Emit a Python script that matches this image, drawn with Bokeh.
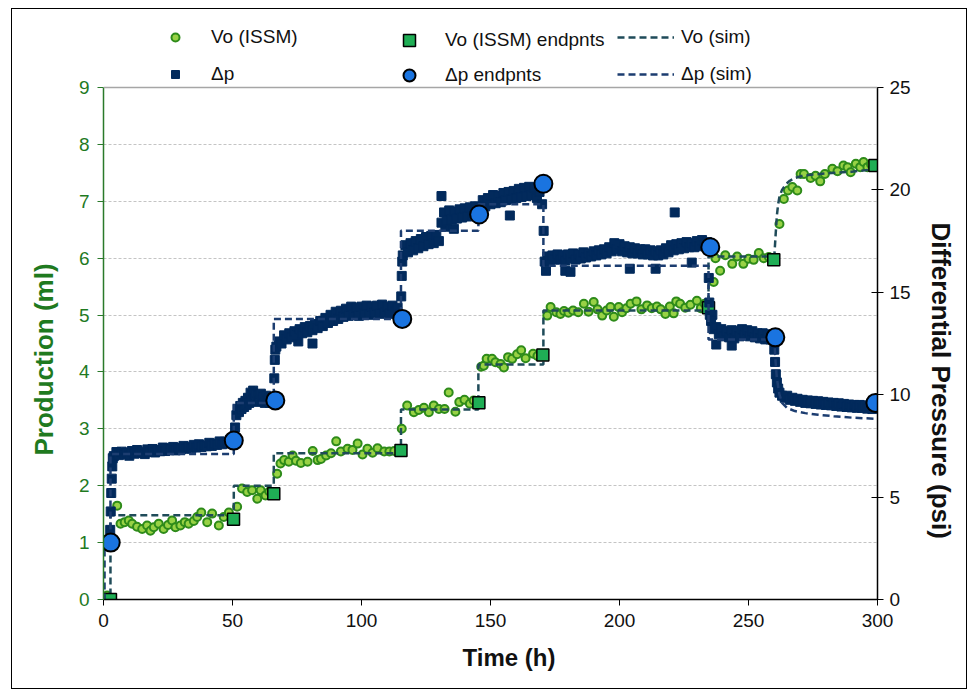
import numpy as np
from bokeh.plotting import figure
from bokeh.models import (Range1d, LinearAxis, FixedTicker, Legend, LegendItem,
                          Title, Span)
from bokeh.embed import file_html
from bokeh.resources import INLINE

FONT = "Liberation Sans"

# ---- oil production, ISSM measurements (h, ml) ----
vo_t = [1.4, 5.3, 6.6, 8.2, 9.8, 11.1, 13.0, 15.0, 16.9, 18.2,
        19.5, 21.4, 23.3, 25.0, 26.6, 27.9, 29.8, 31.5, 33.0, 35.0,
        36.3, 37.9, 40.2, 42.1, 44.7, 46.6, 48.6,
        51.8, 53.7, 55.7, 57.6, 59.6, 60.9, 62.8, 64.3,
        67.3, 68.6, 70.0, 71.8, 73.3, 74.6, 76.5, 79.1, 81.1, 83.0,
        84.3, 86.3, 88.2, 90.2, 92.0, 94.6, 96.5, 98.5, 100.4, 102.3,
        104.3, 106.2, 108.8, 110.8, 112.7,
        115.6, 117.7, 120.3, 122.2, 124.2, 126.1, 128.0, 130.0, 132.2, 133.8,
        136.4, 137.9, 139.9, 142.0, 143.5,
        146.4, 147.4, 148.5, 150.6, 151.9, 153.9, 155.2, 156.8, 158.4, 160.3,
        161.9, 163.6, 166.5, 168.2,
        172.0, 173.3, 175.5, 177.1, 178.5, 180.2, 182.0, 184.0, 186.2, 188.0,
        190.0, 191.5, 193.3, 195.0, 196.5, 197.8, 199.7, 201.0, 202.7, 204.3,
        206.6, 208.5, 210.7, 212.5, 214.5, 216.0, 217.8, 219.5, 221.0, 222.0,
        223.5, 225.5, 227.5, 230.0, 231.5, 233.0,
        236.5, 237.2, 239.0, 241.0, 243.7, 245.6, 248.0, 250.0, 252.0, 254.0,
        255.9, 257.9,
        262.0, 263.7, 265.3, 267.0, 268.9, 270.2, 271.5, 274.1, 276.0, 277.8,
        279.6, 282.5, 284.5, 286.8, 288.4, 289.6, 291.6, 293.3, 294.6, 296.1,
        297.5]
vo_v = [0.07, 1.65, 1.33, 1.36, 1.39, 1.33, 1.28, 1.24, 1.30, 1.21,
        1.27, 1.33, 1.24, 1.31, 1.39, 1.27, 1.30, 1.36, 1.33, 1.38,
        1.45, 1.53, 1.36, 1.51, 1.30, 1.45, 1.53,
        1.63, 1.95, 1.89, 1.92, 1.77, 1.92, 1.83, 1.90,
        2.21, 2.39, 2.45, 2.42, 2.53, 2.44, 2.40, 2.42, 2.61, 2.45,
        2.47, 2.53, 2.57, 2.78, 2.60, 2.65, 2.63, 2.74, 2.55, 2.65,
        2.58, 2.66, 2.60, 2.60, 2.61,
        3.00, 3.41, 3.29, 3.33, 3.37, 3.29, 3.41, 3.35, 3.35, 3.64,
        3.30, 3.47, 3.51, 3.44, 3.50,
        4.09, 4.11, 4.23, 4.23, 4.17, 4.14, 4.08, 4.26, 4.23, 4.31,
        4.38, 4.24, 4.32, 4.28,
        4.99, 5.14, 5.05, 5.02, 5.07, 5.04, 5.08, 5.05, 5.20, 5.06,
        5.23, 5.10, 4.99, 5.08, 5.14, 4.97, 5.14, 5.05, 5.12, 5.20,
        5.24, 5.10, 5.17, 5.12, 5.15, 5.10, 5.02, 5.15, 5.03, 5.24,
        5.20, 5.13, 5.18, 5.25, 5.12, 5.20,
        5.58, 6.00, 5.78, 6.05, 5.90, 6.03, 5.90, 5.99, 5.97, 6.09,
        6.00, 6.02,
        6.60, 7.04, 7.19, 7.25, 7.19, 7.48, 7.48, 7.41, 7.45, 7.35,
        7.48, 7.57, 7.53, 7.63, 7.60, 7.51, 7.66, 7.60, 7.69, 7.60,
        7.65]

# end point of every rate step (h, ml)
vo_end_t = [2.7, 50.4, 66.0, 115.3, 145.5, 170.3, 234.5, 259.8, 299.0]
vo_end_v = [0.0, 1.41, 1.86, 2.62, 3.46, 4.30, 5.13, 5.97, 7.63]

# simulated production (h, ml)
vo_sim_t = [0, 2.7, 2.7, 50.5, 50.5, 66.0, 66.0, 115.3, 115.3, 145.3,
            145.3, 170.5, 170.5, 234.5, 234.5, 260.0, 260.5, 261.0, 261.5, 262.0,
            263.0, 264.5, 266.0, 268.0, 271.0, 275.0, 280.0, 290.0, 300.0]
vo_sim_v = [0, 0, 1.48, 1.48, 2.0, 2.0, 2.57, 2.57, 3.34, 3.34,
            4.13, 4.13, 5.08, 5.08, 6.03, 6.03, 6.4, 6.75, 6.95, 7.08,
            7.2, 7.3, 7.36, 7.41, 7.45, 7.47, 7.49, 7.52, 7.57]

# ---- differential pressure, logged readings (psi) ----
# readings around the rate changes plus isolated spikes (h, psi)
dp_extra_t = [0.3, 1.0, 2.6, 2.8, 3.0, 3.2, 3.4, 3.6,
              66.2, 66.4, 66.6, 75.5, 81.0,
              115.4, 115.6, 115.8, 131.0, 132.5, 135.8, 157.5,
              170.6, 171.5, 179.0, 181.0, 204.0, 214.0, 221.4, 228.0,
              234.6, 234.8, 235.0, 236.0, 237.5, 243.5,
              260.0, 260.3, 260.6, 261.0, 261.5, 262.0, 263.0]
dp_extra_v = [2.75, 2.9, 3.4, 4.3, 5.2, 5.9, 6.5, 6.9,
              10.8, 11.7, 12.2, 12.6, 12.5,
              14.8, 15.8, 16.5, 19.7, 18.2, 18.1, 18.75,
              18.0, 16.05, 16.05, 16.0, 16.15, 16.15, 18.9, 16.45,
              15.7, 14.5, 13.9, 13.9, 12.45, 12.4,
              12.2, 11.6, 11.0, 10.6, 10.3, 10.1, 9.95]

# steady logging at a fixed interval: (first reading h, interval h, values psi)
dp_step1 = (4.0, 1.0, [7.00, 7.20, 7.05, 7.22, 7.10, 7.18, 7.02, 7.25, 7.12, 7.30,
                       7.15, 7.22, 7.10, 7.33, 7.20, 7.35, 7.18, 7.30, 7.24, 7.42,
                       7.25, 7.38, 7.30, 7.45, 7.28, 7.40, 7.33, 7.50, 7.36, 7.46,
                       7.38, 7.55, 7.42, 7.58, 7.45, 7.52, 7.48, 7.65, 7.50, 7.62,
                       7.55, 7.72, 7.58, 7.70, 7.62, 7.80, 7.68])
dp_step2 = (51.0, 0.5, [8.40, 9.00, 9.30, 9.15, 9.45, 9.30, 9.60, 9.40, 9.70, 9.50,
                        9.85, 9.60, 10.10, 9.70, 10.20, 9.80, 10.00, 9.65, 9.95, 9.70,
                        10.05, 9.75, 9.90, 9.60, 9.95, 9.70, 9.85, 9.60, 9.80, 9.65])
dp_step3 = (67.0, 1.0, [12.35, 12.60, 12.50, 12.90, 12.70, 13.00, 12.80, 13.10, 12.90, 13.20,
                        13.00, 13.30, 13.05, 13.35, 13.15, 13.45, 13.25, 13.60, 13.35, 13.75,
                        13.50, 13.90, 13.60, 14.05, 13.70, 14.10, 13.80, 14.20, 13.85, 14.30,
                        13.90, 14.25, 13.85, 14.30, 13.95, 14.35, 13.90, 14.30, 14.00, 14.35,
                        13.95, 14.40, 14.00, 14.30, 13.95, 14.35, 14.05, 14.25, 13.90])
dp_step4 = (116.0, 1.0, [16.80, 17.30, 16.95, 17.40, 17.05, 17.50, 17.15, 17.60, 17.25, 17.70,
                         17.35, 17.75, 17.40, 17.80, 17.50])
dp_step5 = (131.0, 1.0, [18.40, 18.90, 18.50, 19.00, 18.55, 18.95, 18.60, 19.05, 18.65, 19.10,
                         18.70, 19.15, 18.75, 19.20, 18.80])
dp_step6 = (146.0, 1.0, [19.10, 19.50, 19.20, 19.60, 19.30, 19.75, 19.35, 19.70, 19.40, 19.85,
                         19.50, 19.90, 19.55, 19.95, 19.60, 20.05, 19.65, 20.10, 19.70, 20.15,
                         19.75, 20.10, 19.60, 19.90, 19.30])
dp_step7 = (171.0, 1.0, [16.50, 16.75, 16.55, 16.80, 16.60, 16.85, 16.60, 16.80, 16.55, 16.85,
                         16.65, 16.90, 16.60, 16.85, 16.65, 16.95, 16.70, 16.90, 16.75, 17.00,
                         16.80, 17.05, 16.85, 17.10, 16.90, 17.20, 17.00, 17.40, 17.10, 17.35,
                         17.00, 17.25, 16.95, 17.20, 16.90, 17.15, 16.90, 17.10, 16.85, 17.10,
                         16.85, 17.05, 16.80, 17.00, 16.80, 17.05, 16.85, 17.15, 16.95, 17.30,
                         17.05, 17.35, 17.10, 17.40, 17.15, 17.45, 17.20, 17.40, 17.20, 17.50,
                         17.25, 17.55, 17.30, 17.45])
dp_step8 = (235.5, 1.0, [13.60, 13.20, 13.30, 12.95, 13.20, 12.85, 13.10, 12.80, 13.15, 12.75,
                         13.10, 12.85, 13.20, 12.90, 13.15, 12.85, 13.10, 12.80, 13.00, 12.75,
                         13.00, 12.70, 12.95, 12.70, 12.85])
dp_step9 = (264.0, 1.0, [9.85, 9.95, 9.75, 9.85, 9.70, 9.80, 9.65, 9.75, 9.60, 9.72,
                         9.58, 9.70, 9.55, 9.68, 9.52, 9.65, 9.50, 9.62, 9.48, 9.60,
                         9.45, 9.58, 9.42, 9.55, 9.40, 9.52, 9.38, 9.50, 9.36, 9.50,
                         9.35, 9.48, 9.32, 9.45, 9.30, 9.42])

# end point of every rate step (h, psi)
dp_end_t = [2.8, 50.5, 66.6, 115.8, 145.6, 170.5, 235.2, 260.4, 299.2]
dp_end_v = [2.78, 7.76, 9.72, 13.70, 18.80, 20.30, 17.20, 12.80, 9.60]

# simulated differential pressure (h, psi)
dp_sim_t = [0, 0.4, 0.4, 2.7, 2.7, 50.5, 50.5, 66.0, 66.0, 115.3,
            115.3, 145.3, 145.3, 170.5, 170.5, 234.5, 234.5, 260.0, 260.5, 261.0,
            262.0, 263.0, 265.0, 268.0, 272.0, 277.0, 283.0, 290.0, 300.0]
dp_sim_v = [0, 0, 2.8, 2.8, 7.1, 7.1, 9.6, 9.6, 13.7, 13.7,
            18.0, 18.0, 19.3, 19.3, 16.3, 16.3, 12.7, 12.7, 11.6, 10.8,
            10.0, 9.6, 9.35, 9.2, 9.1, 9.02, 8.95, 8.88, 8.82]

x_ticks = [0, 50, 100, 150, 200, 250, 300]
left_ticks = [0, 1, 2, 3, 4, 5, 6, 7, 8, 9]
right_ticks = [0, 5, 10, 15, 20, 25]
VO_MAX, DP_MAX = 9, 25

# assemble the logged pressure record
dp_t = list(dp_extra_t)
dp_v = list(dp_extra_v)
for start, step, vals in (dp_step1, dp_step2, dp_step3, dp_step4, dp_step5,
                          dp_step6, dp_step7, dp_step8, dp_step9):
    dp_t += [start + step * i for i in range(len(vals))]
    dp_v += vals

GREEN_TXT = "#1f7a1f"
NAVY = "#022a5c"

# page geometry (px): the plotting area runs from y=87 (top of the axes) to
# y=599; the frame is taken up to y=20 so that the key above the axes is
# drawn inside it, and the axes are bounded to their own spans.
FRAME_L, FRAME_T, FRAME_B, AXES_T = 103, 20, 599, 87
stretch = (FRAME_B - FRAME_T) / (FRAME_B - AXES_T)

p = figure(width=954, height=679, output_backend="svg", toolbar_location=None,
           x_range=Range1d(0, 300), y_range=Range1d(0, VO_MAX * stretch),
           min_border_left=91, min_border_right=89, min_border_top=FRAME_T - 9,
           min_border_bottom=89, background_fill_color="white",
           border_fill_color="white")
p.margin = (9, 0, 0, 12)
p.styles = {"outline": "1.5px solid #000"}
p.extra_y_ranges = {"dp": Range1d(0, DP_MAX * stretch)}
p.outline_line_color = None

# top edge of the axes box
p.add_layout(Span(location=VO_MAX, dimension="width", line_color="#a6a6a6",
                  line_width=1.5))

# grid
p.xgrid.grid_line_color = None
p.ygrid.ticker = FixedTicker(ticks=[1, 2, 3, 4, 5, 6, 7, 8])
p.ygrid.grid_line_color = "#c4c4c4"
p.ygrid.grid_line_dash = "3 2"
p.ygrid.grid_line_width = 1

# bottom axis
xa = p.xaxis[0]
xa.ticker = FixedTicker(ticks=x_ticks)
xa.major_label_text_font = FONT
xa.major_label_text_font_size = "19px"
xa.major_label_text_color = "#111111"
xa.major_label_standoff = 8
xa.major_tick_out = 6
xa.major_tick_in = 0
xa.minor_tick_line_color = None
xa.axis_line_color = "#000000"
xa.axis_line_width = 1.5
xa.major_tick_line_color = "#000000"

# left axis: production
ya = p.yaxis[0]
ya.ticker = FixedTicker(ticks=left_ticks)
ya.bounds = (0, VO_MAX)
ya.major_label_text_font = FONT
ya.major_label_text_font_size = "19px"
ya.major_label_text_color = GREEN_TXT
ya.major_label_standoff = 8
ya.major_tick_out = 6
ya.major_tick_in = 0
ya.minor_tick_line_color = None
ya.axis_line_color = "#2a7a2a"
ya.axis_line_width = 1.5
ya.major_tick_line_color = "#2a7a2a"

# right axis: differential pressure
ra = LinearAxis(y_range_name="dp", ticker=FixedTicker(ticks=right_ticks),
                bounds=(0, DP_MAX))
ra.major_label_text_font = FONT
ra.major_label_text_font_size = "19px"
ra.major_label_text_color = "#111111"
ra.major_label_standoff = 6
ra.major_tick_out = 6
ra.major_tick_in = 6
ra.minor_tick_line_color = None
ra.axis_line_color = "#000000"
ra.axis_line_width = 1.5
ra.major_tick_line_color = "#000000"
p.add_layout(ra, "right")

# axis titles, set outside the tick labels
def side_title(text, side, offset, standoff, valign, color="#111111", size="26px"):
    p.add_layout(Title(text=text, align="left", offset=offset, standoff=standoff,
                       vertical_align=valign, text_font=FONT,
                       text_font_style="bold", text_font_size=size,
                       text_color=color), side)

side_title("Production (ml)", "left", FRAME_B - 455, 30, "top", GREEN_TXT)
side_title("Differential Pressure (psi)", "right", 222 - FRAME_T, 21, "top")
side_title("Time (h)", "below", 462 - FRAME_L, 24, "bottom", size="24px")

# production series
r_vo = p.scatter(vo_t, vo_v, marker="circle", size=8, line_color="#2e8b1a",
                 line_width=2, fill_color="#98d245")
r_vo_sim = p.line(vo_sim_t, vo_sim_v, line_color="#1f4b59", line_width=2.5,
                  line_dash="7 4")
r_vo_end = p.scatter(vo_end_t, vo_end_v, marker="square", size=12,
                     fill_color="#1fae55", line_color="#000000", line_width=1.5)

# pressure series
r_dp = p.scatter(dp_t, dp_v, marker="square", size=9, line_color=NAVY,
                 fill_color=NAVY, y_range_name="dp")
r_dp_sim = p.line(dp_sim_t, dp_sim_v, line_color="#1c3d70", line_width=2.5,
                  line_dash="7 4", y_range_name="dp")
r_dp_end = p.scatter(dp_end_t, dp_end_v, marker="circle", size=18,
                     fill_color="#1a74e0", line_color="#000000", line_width=2,
                     y_range_name="dp")


def make_legend(items, left, bottom, gw, gh, spacing, standoff):
    lg = Legend(items=items, location=(left - FRAME_L, FRAME_B - bottom),
                orientation="vertical",
                glyph_width=gw, glyph_height=gh, spacing=spacing,
                label_standoff=standoff, padding=0, margin=0,
                border_line_color=None, background_fill_alpha=0,
                label_text_font=FONT, label_text_font_size="19px",
                label_text_color="#111111", label_height=20)
    p.add_layout(lg, "center")


make_legend([LegendItem(label="Vo (ISSM)", renderers=[r_vo]),
             LegendItem(label="Δp", renderers=[r_dp])],
            165, 85, 20, 20, 15, 26)
make_legend([LegendItem(label="Vo (ISSM) endpnts", renderers=[r_vo_end]),
             LegendItem(label="Δp endpnts", renderers=[r_dp_end])],
            394, 90, 30, 30, 5, 21)
make_legend([LegendItem(label="Vo (sim)", renderers=[r_vo_sim]),
             LegendItem(label="Δp (sim)", renderers=[r_dp_sim])],
            617, 85, 57, 20, 15, 7)

open("out.html", "w").write(file_html(p, INLINE))
